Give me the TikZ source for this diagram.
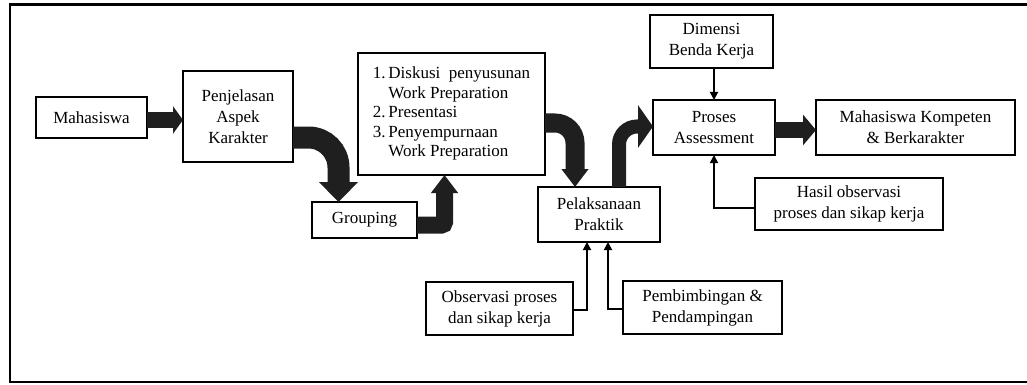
\documentclass[tikz,border=0pt]{standalone}
\usepackage{fontspec}
\setmainfont{Liberation Serif}
\usetikzlibrary{arrows.meta,calc}
\begin{document}
\begin{tikzpicture}[x=1pt,y=-1pt,
  box/.style={draw, line width=2.6pt, inner sep=0pt, outer sep=0pt, align=center,
    font=\fontsize{17}{21}\selectfont},
  thinbox/.style={box, line width=1.8pt},
  thinarr/.style={line width=1.8pt, -{Triangle[length=8pt,width=8pt]}},
  bigarr/.style={draw=black!88, line cap=butt}
]
\useasboundingbox (0,0) rectangle (1027,385);
\draw[line width=2.8pt] (10,4.5) rectangle (1040,382);

\node[box, minimum width=111pt, minimum height=41pt] (mah) at (91.5,117.5) {Mahasiswa};
\node[box, minimum width=110pt, minimum height=91pt] (pen) at (238,116.5) {Penjelasan\\Aspek\\Karakter};
\node[box, minimum width=105pt, minimum height=36pt] (grp) at (364.5,220) {Grouping};
\node[box, minimum width=187pt, minimum height=122pt, align=left,
  font=\fontsize{17}{19.5}\selectfont] (lst) at (451.5,114)
  {\begin{tabular}{@{}l@{\,}l@{}}1. & Diskusi\ \ penyusunan\\ & Work Preparation\\2. & Presentasi\\3. & Penyempurnaan\\ & Work Preparation\end{tabular}};
\node[box, minimum width=122pt, minimum height=55pt] (pel) at (599,214.5) {Pelaksanaan\\Praktik};
\node[thinbox, minimum width=123pt, minimum height=53pt] (dim) at (711.5,41.5) {Dimensi\\Benda Kerja};
\node[thinbox, minimum width=122pt, minimum height=55pt] (pro) at (714,127.5) {Proses\\Assessment};
\node[box, minimum width=199pt, minimum height=55pt] (kom) at (915.5,127.5) {Mahasiswa Kompeten\\\& Berkarakter};
\node[thinbox, minimum width=188pt, minimum height=52pt] (has) at (849,204) {Hasil observasi\\proses dan sikap kerja};
\node[thinbox, minimum width=147pt, minimum height=53pt] (obs) at (499.5,308.5) {Observasi proses\\dan sikap kerja};
\node[thinbox, minimum width=159pt, minimum height=53pt] (pem) at (702.5,307.5) {Pembimbingan \&\\Pendampingan};

% big block arrows
\draw[bigarr, line width=16pt, -{Triangle[length=10pt,width=27pt]}]
  ($(mah.east)+(0,2.5)$) -- ($(mah.east -| pen.west)+(0,2.5)$);
\draw[bigarr, line width=22pt, rounded corners=30pt, -{Triangle[length=20pt,width=38pt]}]
  ($(pen.east)+(0,21)$) -| ($(grp.north)+(-26,0)$);
\draw[bigarr, line width=17pt, rounded corners=3pt, -{Triangle[length=18pt,width=26pt]}]
  ($(grp.east)+(0,5)$) -| ($(lst.south)+(-7,0)$);
\draw[bigarr, line width=19pt, rounded corners=20pt, -{Triangle[length=18pt,width=26pt]}]
  ($(lst.east)+(0,9)$) -| ($(pel.north)+(-24,0)$);
\draw[bigarr, line width=14pt, rounded corners=18pt, -{Triangle[length=15pt,width=42pt]}]
  ($(pel.north)+(20,0)$) |- ($(pro.west)+(0,-1)$);
\draw[bigarr, line width=16pt, -{Triangle[length=13pt,width=30pt]}]
  ($(pro.east)+(0,2.5)$) -- ($(pro.east -| kom.west)+(0,2.5)$);

% thin arrows
\draw[thinarr] (dim.south -| pro.north) -- (pro.north);
\draw[thinarr] ($(has.west)+(0,4)$) -| (pro.south);
\draw[thinarr] ($(obs.east)+(0,1.5)$) -| ($(pel.south)+(-12,0)$);
\draw[thinarr] ($(pem.west)+(0,1.5)$) -| ($(pel.south)+(9,0)$);
\end{tikzpicture}
\end{document}
